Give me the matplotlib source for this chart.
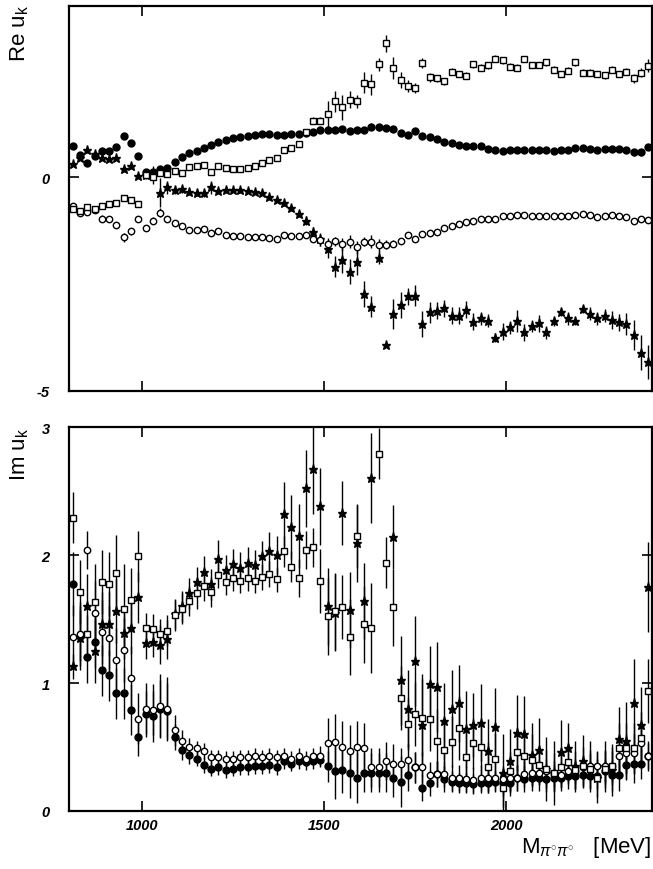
import numpy as np
import matplotlib
matplotlib.use("Agg")
import matplotlib.pyplot as plt

plt.rcParams['font.family'] = ['Liberation Sans', 'DejaVu Sans']
plt.rcParams['mathtext.fontset'] = 'custom'
plt.rcParams['mathtext.rm'] = 'Liberation Sans'
plt.rcParams['mathtext.it'] = 'Liberation Sans:italic'
plt.rcParams['axes.unicode_minus'] = False

# pi0 pi0 mass bins (MeV), 20 MeV wide
mass = np.arange(810, 2400, 20)

# real parts of the four amplitudes
re_fc = [0.73, 0.52, 0.34, 0.50, 0.60, 0.60, 0.71, 0.95, 0.79, 0.50,
         0.11, 0.11, 0.19, 0.22, 0.36, 0.46, 0.56, 0.62, 0.69, 0.75,
         0.81, 0.86, 0.91, 0.94, 0.97, 0.99, 1.00, 1.00, 0.99, 0.99,
         1.00, 1.01, 1.04, 1.06, 1.10, 1.10, 1.11, 1.12, 1.07, 1.10,
         1.10, 1.18, 1.16, 1.14, 1.12, 1.04, 0.98, 1.07, 0.95, 0.93,
         0.89, 0.82, 0.80, 0.75, 0.73, 0.73, 0.73, 0.65, 0.63, 0.61,
         0.63, 0.63, 0.63, 0.63, 0.63, 0.63, 0.61, 0.64, 0.64, 0.67,
         0.67, 0.65, 0.64, 0.65, 0.65, 0.65, 0.64, 0.58, 0.58, 0.71]
re_sq = [-0.75, -0.80, -0.71, -0.75, -0.67, -0.63, -0.60, -0.49, -0.53, -0.63,
         0.05, 0.00, 0.10, 0.08, 0.15, 0.10, 0.24, 0.25, 0.29, 0.13,
         0.25, 0.21, 0.20, 0.18, 0.22, 0.26, 0.34, 0.40, 0.44, 0.64,
         0.69, 0.77, 1.06, 1.32, 1.32, 1.47, 1.77, 1.63, 1.81, 1.77,
         2.21, 2.17, 2.64, 3.13, 2.55, 2.27, 2.13, 2.08, 2.66, 2.33,
         2.31, 2.24, 2.46, 2.41, 2.37, 2.64, 2.56, 2.61, 2.77, 2.73,
         2.58, 2.56, 2.76, 2.62, 2.62, 2.68, 2.51, 2.41, 2.49, 2.68,
         2.44, 2.44, 2.41, 2.38, 2.51, 2.41, 2.46, 2.31, 2.44, 2.60]
re_st = [0.30, 0.45, 0.64, 0.55, 0.44, 0.42, 0.44, 0.19, 0.26, 0.02,
         0.05, 0.05, -0.36, -0.24, -0.30, -0.28, -0.34, -0.36, -0.38, -0.24,
         -0.33, -0.30, -0.30, -0.31, -0.32, -0.34, -0.37, -0.47, -0.53, -0.61,
         -0.73, -0.86, -1.02, -1.29, -1.45, -1.68, -2.09, -1.93, -2.21, -1.99,
         -2.73, -3.03, -1.88, -3.92, -3.19, -2.99, -2.79, -2.77, -3.43, -3.16,
         -3.12, -3.07, -3.24, -3.24, -3.10, -3.38, -3.30, -3.36, -3.75, -3.61,
         -3.51, -3.36, -3.63, -3.48, -3.42, -3.63, -3.37, -3.15, -3.30, -3.36,
         -3.08, -3.19, -3.30, -3.24, -3.34, -3.39, -3.43, -3.69, -4.10, -4.32]
re_oc = [-0.67, -0.83, -0.81, -0.78, -0.97, -0.98, -1.12, -1.41, -1.27, -0.97,
         -1.19, -1.02, -0.83, -0.98, -1.07, -1.15, -1.23, -1.23, -1.22, -1.31,
         -1.27, -1.35, -1.37, -1.38, -1.39, -1.41, -1.41, -1.42, -1.44, -1.35,
         -1.38, -1.38, -1.35, -1.44, -1.48, -1.57, -1.50, -1.57, -1.51, -1.64,
         -1.51, -1.51, -1.59, -1.58, -1.56, -1.49, -1.35, -1.44, -1.33, -1.31,
         -1.28, -1.20, -1.14, -1.10, -1.06, -1.02, -0.99, -0.98, -0.98, -0.92,
         -0.91, -0.89, -0.89, -0.91, -0.91, -0.92, -0.92, -0.92, -0.91, -0.89,
         -0.86, -0.89, -0.94, -0.92, -0.89, -0.92, -0.94, -1.02, -0.98, -1.00]

re_fc_err = [.05, .05, .05, .05, .05, .05, .05, .05, .05, .05,
             .08, .08, .08, .05, .04, .04, .04, .04, .04, .04,
             .04, .04, .04, .04, .04, .04, .04, .04, .04, .04,
             .04, .04, .05, .06, .08, .08, .08, .08, .06, .08,
             .08, .08, .08, .06, .06, .06, .05, .06, .05, .05,
             .04, .04, .04, .04, .04, .04, .04, .04, .04, .04,
             .04, .04, .04, .04, .04, .04, .04, .04, .04, .04,
             .04, .04, .04, .04, .04, .06, .06, .08, .08, .06]
re_sq_err = [.06, .06, .05, .05, .06, .06, .06, .08, .06, .05,
             .06, .06, .06, .06, .05, .05, .05, .05, .05, .05,
             .05, .05, .05, .05, .05, .05, .05, .05, .05, .05,
             .05, .05, .06, .08, .08, .30, .25, .30, .20, .15,
             .25, .25, .15, .20, .25, .18, .15, .12, .12, .10,
             .08, .08, .08, .08, .08, .08, .08, .08, .08, .08,
             .08, .08, .08, .08, .08, .08, .08, .08, .08, .08,
             .08, .08, .08, .08, .08, .08, .08, .10, .10, .15]
re_st_err = [.05, .05, .08, .05, .05, .05, .05, .08, .08, .05,
             .10, .20, .35, .15, .10, .08, .08, .08, .08, .15,
             .06, .06, .05, .05, .05, .05, .05, .06, .06, .06,
             .06, .08, .10, .12, .15, .20, .25, .30, .30, .30,
             .30, .25, .15, .05, .35, .30, .20, .25, .30, .25,
             .20, .20, .20, .20, .20, .20, .15, .15, .10, .20,
             .15, .25, .20, .15, .20, .15, .10, .10, .15, .10,
             .10, .15, .15, .15, .20, .20, .25, .35, .40, .40]
re_oc_err = [.06, .08, .06, .06, .08, .08, .08, .10, .08, .06,
             .08, .08, .10, .06, .05, .04, .04, .04, .04, .04,
             .04, .04, .04, .04, .04, .04, .04, .04, .04, .04,
             .04, .04, .04, .08, .12, .15, .10, .15, .15, .15,
             .10, .15, .15, .10, .08, .06, .05, .05, .04, .04,
             .04, .04, .04, .04, .04, .04, .04, .04, .04, .04,
             .04, .04, .04, .04, .04, .04, .04, .04, .04, .04,
             .04, .04, .04, .04, .04, .04, .06, .06, .06, .06]

# imaginary parts
im_fc = [1.77, 1.37, 1.20, 1.32, 1.10, 1.06, 0.92, 0.92, 0.79, 0.58,
         0.76, 0.74, 0.80, 0.78, 0.58, 0.48, 0.44, 0.41, 0.36, 0.33,
         0.34, 0.32, 0.33, 0.34, 0.34, 0.35, 0.35, 0.36, 0.34, 0.39,
         0.37, 0.39, 0.38, 0.39, 0.40, 0.35, 0.31, 0.32, 0.30, 0.26,
         0.30, 0.30, 0.30, 0.30, 0.26, 0.23, 0.28, 0.34, 0.18, 0.22,
         0.29, 0.25, 0.23, 0.22, 0.22, 0.21, 0.22, 0.22, 0.23, 0.22,
         0.22, 0.26, 0.25, 0.26, 0.26, 0.25, 0.26, 0.26, 0.27, 0.27,
         0.28, 0.27, 0.27, 0.31, 0.28, 0.28, 0.36, 0.37, 0.37, 0.43]
im_sq = [2.29, 1.71, 1.38, 1.63, 1.79, 1.77, 1.86, 1.58, 1.65, 1.99,
         1.43, 1.42, 1.38, 1.41, 1.53, 1.58, 1.64, 1.70, 1.76, 1.71,
         1.84, 1.79, 1.82, 1.80, 1.82, 1.80, 1.83, 1.85, 1.81, 2.03,
         1.91, 1.82, 2.04, 2.06, 1.80, 1.52, 1.56, 1.59, 1.36, 2.15,
         1.46, 1.43, 2.79, 1.94, 1.59, 0.88, 0.68, 0.76, 0.73, 0.72,
         0.55, 0.48, 0.54, 0.65, 0.42, 0.53, 0.50, 0.34, 0.41, 0.18,
         0.31, 0.46, 0.43, 0.40, 0.36, 0.33, 0.30, 0.34, 0.38, 0.32,
         0.35, 0.33, 0.26, 0.33, 0.35, 0.49, 0.49, 0.49, 0.57, 0.94]
im_st = [1.13, 1.35, 1.60, 1.25, 1.46, 1.46, 1.56, 1.39, 1.43, 1.67,
         1.31, 1.32, 1.30, 1.34, 1.54, 1.60, 1.70, 1.79, 1.87, 1.77,
         1.97, 1.88, 1.93, 1.90, 1.94, 1.92, 1.99, 2.03, 2.00, 2.32,
         2.22, 2.15, 2.52, 2.67, 2.38, 1.60, 1.55, 2.33, 1.57, 2.09,
         1.64, 2.60, np.nan, np.nan, 2.14, 1.02, 0.80, 1.17, 0.67, 0.99,
         0.97, 0.70, 0.80, 0.84, 0.64, 0.67, 0.69, 0.47, 0.66, 0.30,
         0.39, 0.61, 0.60, 0.44, 0.48, 0.33, 0.30, 0.46, 0.49, 0.35,
         0.39, 0.35, 0.26, 0.35, 0.32, 0.56, 0.55, 0.84, 0.67, 1.75]
im_oc = [1.36, 1.38, 2.04, 1.55, 1.40, 1.35, 1.18, 1.26, 1.04, 0.72,
         0.80, 0.79, 0.82, 0.80, 0.63, 0.55, 0.50, 0.49, 0.47, 0.42,
         0.42, 0.41, 0.41, 0.42, 0.42, 0.43, 0.42, 0.43, 0.42, 0.43,
         0.41, 0.43, 0.41, 0.43, 0.43, 0.53, 0.54, 0.50, 0.47, 0.50,
         0.49, 0.34, 0.34, 0.39, 0.37, 0.37, 0.40, 0.34, 0.34, 0.28,
         0.29, 0.29, 0.26, 0.26, 0.25, 0.24, 0.26, 0.26, 0.26, 0.25,
         0.26, 0.26, 0.29, 0.30, 0.30, 0.31, 0.29, 0.28, 0.31, 0.31,
         0.34, 0.35, 0.35, 0.35, 0.35, 0.43, 0.45, 0.45, 0.53, 0.43]

im_fc_err = [.25, .20, .20, .20, .20, .20, .20, .20, .20, .15,
             .18, .20, .22, .22, .10, .08, .07, .06, .06, .06,
             .06, .06, .06, .06, .06, .06, .06, .06, .06, .06,
             .06, .06, .06, .06, .06, .12, .22, .18, .20, .20,
             .15, .15, .15, .15, .15, .20, .12, .12, .10, .10,
             .10, .10, .08, .08, .08, .08, .08, .08, .08, .10,
             .10, .10, .10, .10, .10, .10, .10, .10, .10, .10,
             .10, .10, .10, .10, .12, .12, .12, .15, .12, .10]
im_sq_err = [.20, .25, .15, .30, .25, .25, .30, .35, .25, .20,
             .12, .12, .12, .12, .12, .12, .12, .12, .12, .12,
             .10, .10, .10, .10, .10, .10, .10, .10, .10, .12,
             .12, .15, .15, .15, .25, .30, .30, .25, .30, .25,
             .30, .35, .20, .20, .30, .25, .20, .25, .30, .25,
             .25, .25, .20, .25, .20, .20, .20, .20, .20, .15,
             .15, .20, .20, .20, .15, .15, .15, .15, .15, .15,
             .15, .15, .15, .15, .15, .20, .20, .20, .20, .25]
im_st_err = [.10, .25, .25, .25, .25, .25, .25, .20, .20, .20,
             .12, .12, .15, .15, .12, .12, .12, .12, .12, .12,
             .15, .12, .12, .12, .12, .12, .12, .15, .15, .25,
             .25, .25, .30, .35, .30, .30, .30, .25, .30, .30,
             .30, .35, .30, .30, .25, .35, .30, .35, .40, .30,
             .35, .30, .30, .30, .30, .25, .30, .25, .30, .30,
             .25, .30, .30, .25, .25, .25, .25, .25, .20, .20,
             .20, .20, .20, .20, .20, .25, .30, .35, .30, .35]
im_oc_err = [.25, .25, .15, .25, .25, .25, .25, .25, .25, .20,
             .20, .20, .25, .25, .12, .08, .07, .06, .06, .06,
             .06, .06, .06, .06, .06, .06, .06, .06, .06, .06,
             .06, .06, .06, .06, .08, .20, .22, .20, .20, .20,
             .20, .15, .15, .15, .15, .12, .12, .12, .12, .10,
             .10, .10, .10, .10, .10, .10, .10, .10, .10, .10,
             .10, .10, .10, .10, .10, .10, .10, .10, .10, .10,
             .10, .10, .12, .12, .12, .15, .15, .15, .15, .12]

fig = plt.figure(figsize=(6.53, 8.70), dpi=100)
ax1 = fig.add_axes([69/653, 1-392/870, 583/653, 385/870])
ax2 = fig.add_axes([69/653, 1-812/870, 583/653, 384/870])

ebkw = dict(ls='none', ecolor='black', elinewidth=1.0, capsize=0)


def draw(ax, fc, fce, st, ste, oc, oce, sq, sqe):
    ax.errorbar(mass, fc, yerr=fce, fmt='o', ms=5, mfc='black', mec='black', **ebkw)
    ax.errorbar(mass, st, yerr=ste, fmt='*', ms=6.5, mfc='black', mec='black', **ebkw)
    ax.errorbar(mass, oc, yerr=oce, fmt='o', ms=4.6, mfc='white', mec='black', mew=1.0, **ebkw)
    ax.errorbar(mass, sq, yerr=sqe, fmt='s', ms=4.4, mfc='white', mec='black', mew=1.0, **ebkw)


draw(ax1, re_fc, re_fc_err, re_st, re_st_err, re_oc, re_oc_err, re_sq, re_sq_err)
draw(ax2, im_fc, im_fc_err, im_st, im_st_err, im_oc, im_oc_err, im_sq, im_sq_err)

ax1.set_ylim(-5, 4)
ax1.set_yticks([-5, 0])
ax2.set_ylim(0, 3)
ax2.set_yticks([0, 1, 2, 3])

for ax in (ax1, ax2):
    ax.set_xlim(800, 2400)
    ax.set_xticks([1000, 1500, 2000])
    ax.tick_params(direction='in', length=7, width=1.2, top=True, right=True,
                   labelsize=10.5, pad=14)
    for lab in ax.get_yticklabels() + ax.get_xticklabels():
        lab.set_fontstyle('italic')
        lab.set_fontweight('bold')
    for sp in ax.spines.values():
        sp.set_linewidth(1.6)

ax1.tick_params(labelbottom=False)
ax2.tick_params(axis='x', pad=5)

fig.text(20/653, 1-5/870, r"Re u$_{\rm k}$", rotation=90, ha='center', va='top', fontsize=16)
fig.text(20/653, 1-428/870, r"Im u$_{\rm k}$", rotation=90, ha='center', va='top', fontsize=16)
fig.text(651/653, 1-848/870, r"M$_{\pi^{\circ}\pi^{\circ}}$   [MeV]", ha='right', va='center', fontsize=16)

fig.savefig("out.png", dpi=100)
